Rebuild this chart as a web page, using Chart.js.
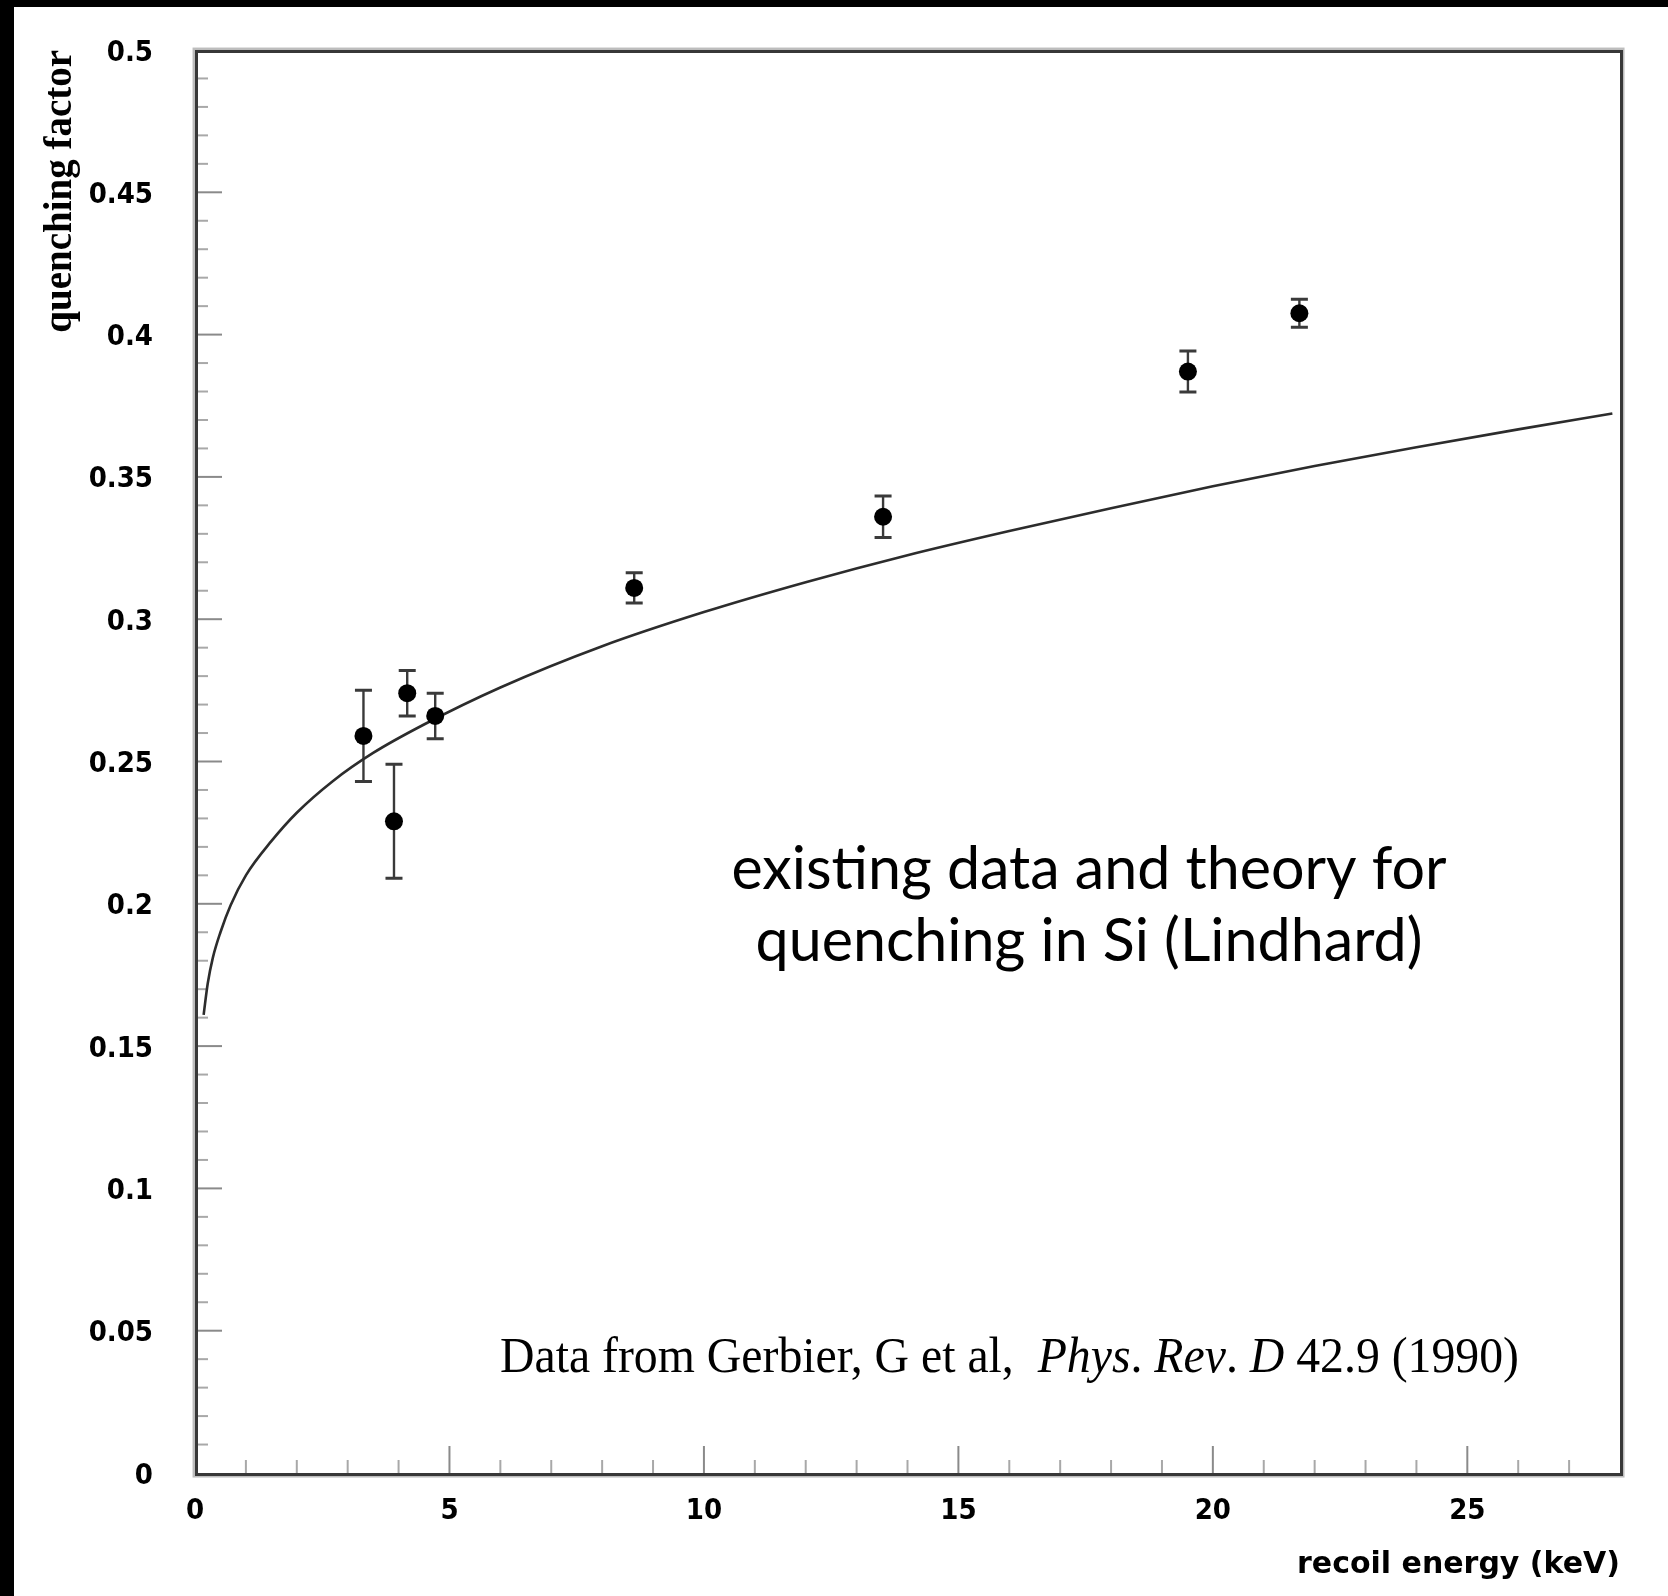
<!DOCTYPE html>
<html>
<head>
<meta charset="utf-8">
<title>Quenching factor in Si</title>
<script src="https://cdn.jsdelivr.net/npm/chart.js@4.4.1/dist/chart.umd.min.js"></script>
<style>
  html, body { margin: 0; padding: 0; background: #fff; }
  #c { display: block; }
</style>
</head>
<body>
<canvas id="c" width="1668" height="1596"></canvas>
<script>
// Measured quenching factors in silicon (Gerbier et al., 1990)
const energy    = [3.31, 3.91, 4.17, 4.72, 8.63, 13.52, 19.51, 21.70];
const quench    = [0.259, 0.229, 0.274, 0.266, 0.311, 0.336, 0.387, 0.4075];
const quenchErr = [0.016, 0.020, 0.008, 0.008, 0.0053, 0.0073, 0.0072, 0.0049];

// Lindhard prediction for Si
const theoryEnergy = [0.17, 0.25, 0.35, 0.5, 0.7, 1, 1.5, 2, 2.7, 3.5, 4.5, 6, 8, 10, 12, 14, 16, 18, 20, 22, 24, 26, 27.85];
const theoryQuench = [0.161, 0.172, 0.181, 0.190, 0.1995, 0.210, 0.222, 0.232, 0.243, 0.253, 0.263, 0.276, 0.2905, 0.3025, 0.313, 0.3225, 0.331, 0.339, 0.3467, 0.3538, 0.3604, 0.3667, 0.3723];

// Axis ticks
const xTickValues = [0, 5, 10, 15, 20, 25];
const xTickLabels = ['0', '5', '10', '15', '20', '25'];
const yTickValues = [0, 0.05, 0.1, 0.15, 0.2, 0.25, 0.3, 0.35, 0.4, 0.45, 0.5];
const yTickLabels = ['0', '0.05', '0.1', '0.15', '0.2', '0.25', '0.3', '0.35', '0.4', '0.45', '0.5'];

const noteLines = ['existing data and theory for', 'quenching in Si (Lindhard)'];
const creditParts = [
  ['Data from Gerbier, G et al,  ', false],
  ['Phys', true], ['. ', false], ['Rev', true], ['. ', false], ['D', true],
  [' 42.9 (1990)', false]
];

const W = 1668, H = 1596;
const tickFont = "'DejaVu Sans Condensed', 'DejaVu Sans', sans-serif";

// Page backdrop: white sheet with a dark edge at left and top
const backdrop = {
  id: 'backdrop',
  beforeDraw(chart) {
    const ctx = chart.ctx;
    ctx.save();
    ctx.fillStyle = '#fff';
    ctx.fillRect(0, 0, W, H);
    ctx.fillStyle = '#000';
    ctx.fillRect(0, 0, 14, H);
    ctx.fillRect(0, 0, W, 7);
    ctx.restore();
  }
};

// Inner tick marks along the left and bottom axes
const innerTicks = {
  id: 'innerTicks',
  beforeDatasetsDraw(chart) {
    const { ctx, chartArea: ca, scales: { x, y } } = chart;
    ctx.save();
    ctx.lineWidth = 2;
    for (let v = 1; v < 28; v++) {
      const px = x.getPixelForValue(v);
      const major = v % 5 === 0;
      ctx.strokeStyle = major ? '#8a8a8a' : '#a8a8a8';
      ctx.beginPath();
      ctx.moveTo(px, ca.bottom);
      ctx.lineTo(px, ca.bottom - (major ? 27 : 13));
      ctx.stroke();
    }
    for (let i = 1; i < 50; i++) {
      const py = y.getPixelForValue(i / 100);
      const major = i % 5 === 0;
      ctx.strokeStyle = major ? '#8a8a8a' : '#a8a8a8';
      ctx.beginPath();
      ctx.moveTo(ca.left, py);
      ctx.lineTo(ca.left + (major ? 27 : 13), py);
      ctx.stroke();
    }
    ctx.restore();
  }
};

// Vertical error bars with caps, drawn under the markers
const errorBars = {
  id: 'errorBars',
  beforeDatasetsDraw(chart) {
    const { ctx, scales: { x, y } } = chart;
    ctx.save();
    ctx.strokeStyle = '#3a3a3a';
    energy.forEach((e, i) => {
      const px = x.getPixelForValue(e);
      const top = y.getPixelForValue(quench[i] + quenchErr[i]);
      const bot = y.getPixelForValue(quench[i] - quenchErr[i]);
      ctx.lineWidth = 2.4;
      ctx.beginPath();
      ctx.moveTo(px, top); ctx.lineTo(px, bot);
      ctx.stroke();
      ctx.lineWidth = 3;
      ctx.beginPath();
      ctx.moveTo(px - 8.5, top); ctx.lineTo(px + 8.5, top);
      ctx.moveTo(px - 8.5, bot); ctx.lineTo(px + 8.5, bot);
      ctx.stroke();
    });
    ctx.restore();
  }
};

// Plot frame with a soft grey edge, plus the text notes
const frameAndNotes = {
  id: 'frameAndNotes',
  afterDraw(chart) {
    const { ctx, chartArea: ca } = chart;
    ctx.save();
    // soft outer edge
    ctx.strokeStyle = '#bdbdbd';
    ctx.lineWidth = 2.5;
    ctx.strokeRect(ca.left - 1.2, ca.top - 1.2, ca.right - ca.left + 4.5, ca.bottom - ca.top + 4.5);
    // main frame
    ctx.strokeStyle = '#383838';
    ctx.lineWidth = 3;
    ctx.strokeRect(ca.left + 1.5, ca.top + 1.5, ca.right - ca.left, ca.bottom - ca.top);

    // caption inside the plot
    ctx.fillStyle = '#000';
    ctx.textAlign = 'center';
    ctx.textBaseline = 'alphabetic';
    ctx.font = "60px Lato, 'Open Sans', sans-serif";
    ctx.fillText(noteLines[0], 1089, 889, 715);
    ctx.fillText(noteLines[1], 1089, 961, 667);

    // source line, set in a condensed serif
    const serif = "'Liberation Serif', 'Times New Roman', serif";
    const size = 51;
    ctx.textAlign = 'left';
    let total = 0;
    creditParts.forEach(([t, it]) => {
      ctx.font = (it ? 'italic ' : '') + size + 'px ' + serif;
      total += ctx.measureText(t).width;
    });
    const squeeze = 1019 / total;
    ctx.translate(500, 1372);
    ctx.scale(squeeze, 1);
    let cx = 0;
    creditParts.forEach(([t, it]) => {
      ctx.font = (it ? 'italic ' : '') + size + 'px ' + serif;
      ctx.fillText(t, cx, 0);
      cx += ctx.measureText(t).width;
    });
    ctx.restore();
  }
};

new Chart(document.getElementById('c'), {
  type: 'scatter',
  data: {
    datasets: [
      {
        label: 'data',
        data: energy.map((e, i) => ({ x: e, y: quench[i] })),
        pointRadius: 9,
        pointHoverRadius: 9,
        backgroundColor: '#000',
        borderWidth: 0,
        order: 1
      },
      {
        label: 'Lindhard',
        data: theoryEnergy.map((e, i) => ({ x: e, y: theoryQuench[i] })),
        showLine: true,
        pointRadius: 0,
        borderColor: '#2c2c2c',
        borderWidth: 2.6,
        cubicInterpolationMode: 'monotone',
        fill: false,
        order: 2
      }
    ]
  },
  options: {
    responsive: false,
    animation: false,
    devicePixelRatio: 1,
    layout: { padding: { left: 0, top: 50, right: 48, bottom: 0 } },
    plugins: { legend: { display: false }, tooltip: { enabled: false } },
    scales: {
      x: {
        type: 'linear',
        min: 0,
        max: 28,
        afterBuildTicks: s => { s.ticks = xTickValues.map(v => ({ value: v })); },
        afterFit: s => { s.height = 123; },
        grid: { display: false, drawTicks: true, tickLength: 18 },
        border: { display: false },
        ticks: {
          autoSkip: false,
          maxRotation: 0,
          padding: 3,
          color: '#000',
          font: { family: tickFont, size: 29, weight: 'bold' },
          callback: v => xTickLabels[xTickValues.indexOf(v)]
        },
        title: {
          display: true,
          text: 'recoil energy (keV)',
          align: 'end',
          color: '#000',
          font: { family: "'DejaVu Sans', sans-serif", size: 30, weight: 'bold' },
          padding: { top: 0, bottom: 13 }
        }
      },
      y: {
        type: 'linear',
        min: 0,
        max: 0.5,
        afterBuildTicks: s => { s.ticks = yTickValues.map(v => ({ value: v })); },
        afterFit: s => { s.width = 195; },
        grid: { display: false, drawTicks: true, tickLength: 36 },
        border: { display: false },
        ticks: {
          autoSkip: false,
          padding: 6,
          labelOffset: 3,
          color: '#000',
          font: { family: tickFont, size: 29, weight: 'bold' },
          callback: (v, i) => yTickLabels[i]
        },
        title: {
          display: true,
          text: 'quenching factor',
          align: 'end',
          color: '#000',
          font: { family: "'Liberation Serif', 'Times New Roman', serif", size: 39, weight: 'bold' },
          padding: { top: 38, bottom: 0 }
        }
      }
    }
  },
  plugins: [backdrop, innerTicks, errorBars, frameAndNotes]
});
</script>
</body>
</html>
